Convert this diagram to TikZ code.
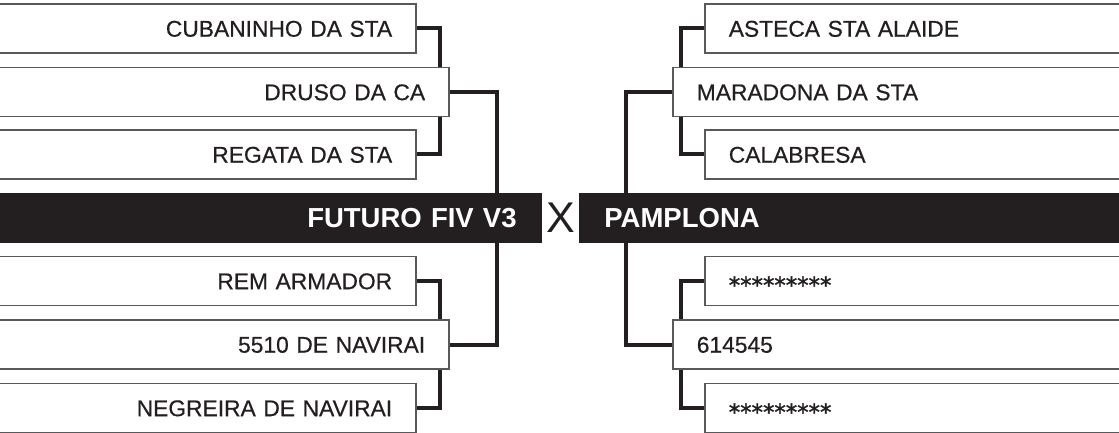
\documentclass[tikz,border=0pt]{standalone}
\usepackage{fontspec}
\setmainfont{Liberation Sans}
\newfontfamily\medfont[FakeBold=0.5]{Liberation Sans}
\newfontfamily\astfont[FakeBold=1.5]{DejaVu Sans}
\usetikzlibrary{calc,backgrounds}
\definecolor{ink}{HTML}{231F20}
\definecolor{frame}{HTML}{58595B}

\newcommand{\stars}{\raisebox{-2pt}{\astfont *********}}

\begin{document}
\begin{tikzpicture}[x=0.5pt,y=-0.5pt,text=ink,
  box/.style={draw=frame,line width=.8pt,fill=white,minimum height=24.5pt,
    inner ysep=0pt,inner xsep=12pt,text height=8.2pt,text depth=0pt,
    font=\medfont\fontsize{11.4}{13}\selectfont},
  lbox/.style={box,anchor=east,align=right,text width=#1},
  rbox/.style={box,anchor=west,align=left,text width=#1},
  bar/.style={fill=ink,text=white,minimum height=25pt,inner ysep=0pt,
    inner xsep=12.5pt,text height=9.8pt,text depth=0pt,
    font=\bfseries\fontsize{13.75}{15}\selectfont},
  link/.style={ink,line width=2pt}]
  \useasboundingbox (0,0) rectangle (1119,433);
  \clip (0,0) rectangle (1119,433);

  % left bracket
  \foreach \nm/\y/\txt in {cub/28.5/CUBANINHO DA STA, reg/154.5/REGATA DA STA,
      rem/281/REM ARMADOR, neg/408/NEGREIRA DE NAVIRAI}
    \node[lbox=189.5pt] (\nm) at (417,\y) {\txt};
  \node[lbox=206pt] (dru) at (450,92) {DRUSO DA CA};
  \node[lbox=206pt] (nav) at (450,344.5) {5510 DE NAVIRAI};
  \node[bar,anchor=east,align=right,text width=251pt] (fut) at (542,218)
    {FUTURO FIV V3};

  % right bracket
  \foreach \nm/\y/\txt in {ast/28.5/ASTECA STA ALAIDE, cal/154.5/CALABRESA,
      st1/281/\stars, st2/408/\stars}
    \node[rbox=188.5pt] (\nm) at (704,\y) {\txt};
  \node[rbox=204.5pt] (mar) at (672,92) {MARADONA DA STA};
  \node[rbox=204.5pt] (num) at (672,344.5) {614545};
  \node[bar,anchor=west,align=left,text width=250pt] (pam) at (579,218)
    {PAMPLONA};

  \node[font=\fontsize{21.5}{24}\selectfont] (vs) at (561,218) {X};

  \begin{scope}[on background layer]
    \fill[white] (0,0) rectangle (1119,433);
    \draw[link] (cub.east) -| ($(dru.east)+(-10,0)$) |- (reg.east);
    \draw[link] (dru.east) -| ($(fut.north east)+(-45,0)$);
    \draw[link] (rem.east) -| ($(nav.east)+(-10,0)$) |- (neg.east);
    \draw[link] (nav.east) -| ($(fut.south east)+(-45,0)$);
    \draw[link] (ast.west) -| ($(mar.west)+(9,0)$) |- (cal.west);
    \draw[link] (mar.west) -| ($(pam.north west)+(47,0)$);
    \draw[link] (st1.west) -| ($(num.west)+(9,0)$) |- (st2.west);
    \draw[link] (num.west) -| ($(pam.south west)+(47,0)$);
  \end{scope}
\end{tikzpicture}
\end{document}
